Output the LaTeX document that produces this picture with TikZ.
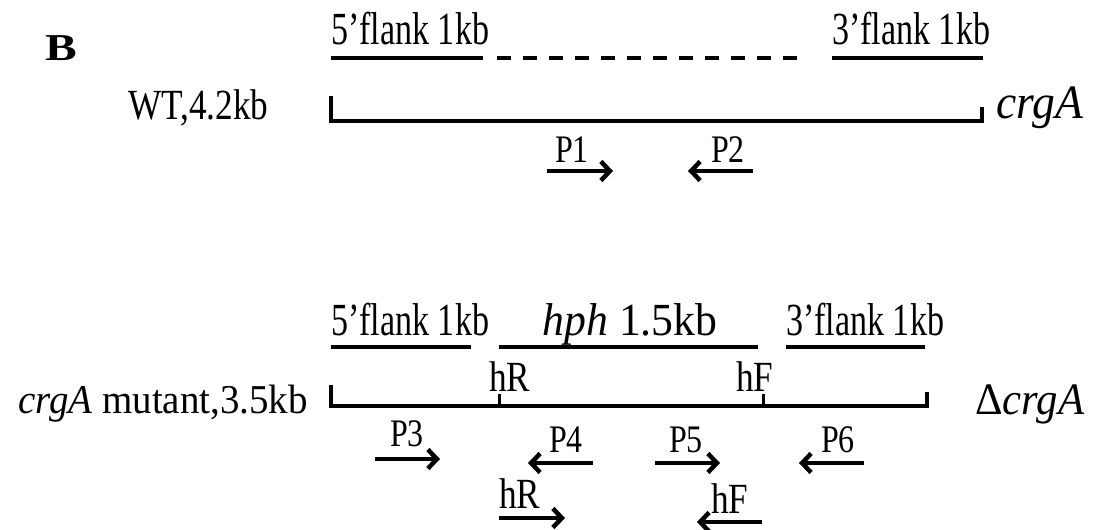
\documentclass[tikz,border=0pt]{standalone}
\usepackage{fontspec}
\setmainfont{Liberation Serif}[FakeStretch=0.82]
\newfontfamily\widefont{Liberation Serif}[FakeStretch=0.95]
\newfontfamily\condfont{Liberation Serif}[FakeStretch=0.74]
\newfontfamily\bigbfont{Liberation Serif}[FakeStretch=1.25]
\usetikzlibrary{arrows.meta}
\begin{document}
\begin{tikzpicture}[x=1pt,y=-1pt,
  bar/.style={line width=4.5pt},
  brk/.style={line width=4.5pt,line join=miter},
  lab/.style={anchor=base west,inner sep=0pt,font=\condfont\fontsize{46}{48}\selectfont},
  plab/.style={anchor=base west,inner sep=0pt,font=\fontsize{39}{41}\selectfont},
  hlab/.style={anchor=base west,inner sep=0pt,font=\fontsize{43}{45}\selectfont},
  primer/.style={line width=4.5pt,-{Straight Barb[length=9pt,width=19pt]}}
]
\useasboundingbox (0,0) rectangle (1093,530);

% ---------- top: WT ----------
\node[anchor=base west,inner sep=0pt,font=\bigbfont\fontsize{38}{40}\selectfont\bfseries] (B) at (45,60) {B};
\node[lab] (f5a) at (331,45) {5’flank 1kb};
\node[lab] (f3a) at (832,45) {3’flank 1kb};
\coordinate (a1) at (331,58); \coordinate (a2) at (483,58);
\coordinate (a3) at (497,58); \coordinate (a4) at (805,58);
\coordinate (a5) at (832,58); \coordinate (a6) at (983,58);
\draw[bar] (a1) -- (a2);
\draw[bar,dash pattern=on 14pt off 12pt] (a3) -- (a4);
\draw[bar] (a5) -- (a6);

\node[lab,font=\fontsize{43}{45}\selectfont] (wt) at (128,119) {WT,4.2kb};
\coordinate (w1) at (331,96); \coordinate (w2) at (331,121);
\coordinate (w3) at (982,121); \coordinate (w4) at (982,107);
\draw[brk] (w1) -- (w2) -- (w3) -- (w4);
\node[lab,font=\widefont\fontsize{48}{50}\selectfont\itshape] (crga) at (996,118) {crgA};

\node[plab] (P1) at (555,162) {P1};
\coordinate (p1s) at (547,171); \coordinate (p1e) at (613,171);
\draw[primer] (p1s) -- (p1e);
\node[plab] (P2) at (711,162) {P2};
\coordinate (p2s) at (753,171); \coordinate (p2e) at (688,171);
\draw[primer] (p2s) -- (p2e);

% ---------- bottom: mutant ----------
\node[lab] (f5b) at (331,335) {5’flank 1kb};
\node[lab,anchor=base,font=\widefont\fontsize{46}{48}\selectfont] (hph) at (630,335) {\textit{hph} 1.5kb};
\node[lab] (f3b) at (786,335) {3’flank 1kb};
\coordinate (b1) at (331,347); \coordinate (b2) at (471,347);
\coordinate (b3) at (499,347); \coordinate (b4) at (758,347);
\coordinate (b5) at (786,347); \coordinate (b6) at (925,347);
\draw[bar] (b1) -- (b2);
\draw[bar] (b3) -- (b4);
\draw[bar] (b5) -- (b6);

\node[lab,anchor=base east,font=\widefont\fontsize{41}{44}\selectfont] (mut) at (308,413) {\textit{crgA} mutant,3.5kb};
\coordinate (m1) at (331,385); \coordinate (m2) at (331,406);
\coordinate (m3) at (927,406); \coordinate (m4) at (927,392);
\draw[brk] (m1) -- (m2) -- (m3) -- (m4);
\coordinate (hRt) at (499,394); \coordinate (hRb) at (499,406);
\coordinate (hFt) at (763,394); \coordinate (hFb) at (763,406);
\draw[line width=3pt] (hRt) -- (hRb);
\draw[line width=3pt] (hFt) -- (hFb);
\node[hlab] (hRl) at (489,391) {hR};
\node[hlab] (hFl) at (736,391) {hF};
\node[lab,font=\widefont\fontsize{45}{47}\selectfont] (dcrga) at (975,414) {Δ\textit{crgA}};

\node[plab] (P3) at (390,446) {P3};
\coordinate (p3s) at (375,459); \coordinate (p3e) at (440,459);
\draw[primer] (p3s) -- (p3e);
\node[plab] (P4) at (549,452) {P4};
\coordinate (p4s) at (593,463); \coordinate (p4e) at (528,463);
\draw[primer] (p4s) -- (p4e);
\node[plab] (P5) at (669,452) {P5};
\coordinate (p5s) at (655,463); \coordinate (p5e) at (720,463);
\draw[primer] (p5s) -- (p5e);
\node[plab] (P6) at (821,452) {P6};
\coordinate (p6s) at (864,463); \coordinate (p6e) at (799,463);
\draw[primer] (p6s) -- (p6e);

\node[hlab] (hR2) at (499,508) {hR};
\coordinate (q1s) at (499,518); \coordinate (q1e) at (565,518);
\draw[primer] (q1s) -- (q1e);
\node[hlab] (hF2) at (711,513) {hF};
\coordinate (q2s) at (762,522); \coordinate (q2e) at (697,522);
\draw[primer] (q2s) -- (q2e);
\end{tikzpicture}
\end{document}
